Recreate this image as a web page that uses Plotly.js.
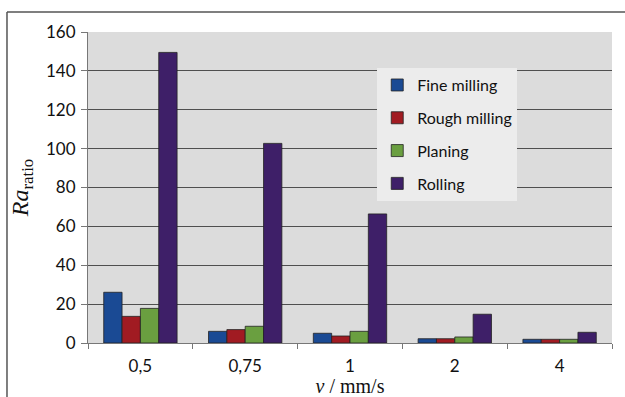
<!DOCTYPE html>
<html><head><meta charset="utf-8">
<script src="https://cdn.plot.ly/plotly-3.0.1.min.js"></script>
<style>html,body{margin:0;padding:0;background:#fff}#c{width:625px;height:397px}</style>
</head><body><div id="c"></div>
<script>
const categories = ['0,5', '0,75', '1', '2', '4'];
const seriesNames = ['Fine milling', 'Rough milling', 'Planing', 'Rolling'];
const fineMilling = [26.1, 6.0, 5.0, 2.2, 1.9];
const roughMilling = [13.7, 6.9, 3.6, 2.2, 1.9];
const planing = [17.8, 8.6, 6.0, 3.1, 1.9];
const rolling = [149.5, 102.7, 66.4, 14.8, 5.5];
const colors = ['#1a4a94', '#a11b22', '#6a9f40', '#3e1f68'];
const values = [fineMilling, roughMilling, planing, rolling];

const traces = values.map((v, i) => ({
  type: 'bar', x: categories, y: v, name: seriesNames[i], legendgroup: 'g' + i,
  marker: {color: colors[i], line: {color: '#222', width: 0.8}}
}));

const font = 'Lato, "Open Sans", sans-serif';
const layout = {
  width: 625, height: 397,
  margin: {l: 88, r: 13, t: 32, b: 54},
  paper_bgcolor: '#ffffff', plot_bgcolor: '#dcdcdc',
  barmode: 'group', bargap: 0.30, bargroupgap: 0,
  showlegend: true,
  legend: {x: 0.552, y: 0.884, xanchor: 'left', yanchor: 'top', bgcolor: '#ececec',
    font: {family: font, size: 16, color: '#111'}, traceorder: 'grouped', tracegroupgap: 9,
    itemwidth: 30},
  xaxis: {type: 'category', tickfont: {family: font, size: 17, color: '#111'},
    showline: true, linecolor: '#777', linewidth: 1, ticks: 'outside', tickson: 'boundaries',
    ticklen: 5, tickcolor: '#777', showgrid: false, ticklabelstandoff: 8,
    title: {text: '<i>v</i> / mm/s', font: {family: '"Liberation Serif", "DejaVu Serif", serif', size: 20, color: '#111'}, standoff: 0}},
  yaxis: {range: [0, 160], dtick: 20, tickfont: {family: font, size: 17, color: '#111'},
    showline: true, linecolor: '#777', linewidth: 1, ticks: 'outside', ticklen: 6, tickcolor: '#777',
    gridcolor: '#4f4f4f', gridwidth: 1, zeroline: false, ticklabelstandoff: 2,
    title: {text: '<i>Ra</i><sub>ratio</sub>', font: {family: '"Liberation Serif", "DejaVu Serif", serif', size: 24, color: '#111'}, standoff: 10}},
  shapes: [
    {type: 'line', xref: 'paper', yref: 'paper', x0: -0.1546, x1: 1.1, y0: 1.064, y1: 1.064, line: {color: '#555', width: 1.5}},
    {type: 'line', xref: 'paper', yref: 'paper', x0: -0.1546, x1: -0.1546, y0: 1.064, y1: -0.3, line: {color: '#555', width: 1.5}}
  ]
};
Plotly.newPlot('c', traces, layout, {staticPlot: true});
</script></body></html>
